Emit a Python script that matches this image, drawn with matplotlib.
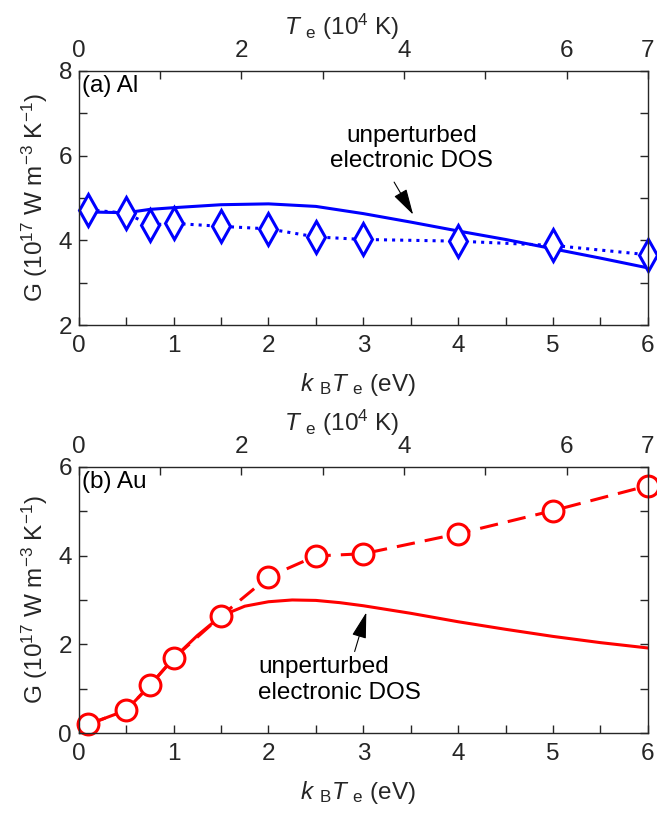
import matplotlib
matplotlib.use("Agg")
import matplotlib.pyplot as plt
from matplotlib.ticker import FixedLocator, MultipleLocator

plt.rcParams['font.family'] = ['Liberation Sans', 'DejaVu Sans']
plt.rcParams['mathtext.fontset'] = 'custom'
plt.rcParams['mathtext.rm'] = 'Liberation Sans'
plt.rcParams['mathtext.it'] = 'Liberation Sans:italic'

# (a) Al
al_x = [0.1, 0.5, 0.75, 1, 1.5, 2, 2.5, 3, 4, 5, 6]
al_g = [4.72, 4.64, 4.36, 4.40, 4.33, 4.27, 4.08, 4.02, 3.98, 3.88, 3.66]
al_dos_x = [0.1, 0.5, 0.75, 1, 1.5, 2, 2.5, 3, 3.5, 4, 4.5, 5, 5.5, 6]
al_dos_g = [4.67, 4.65, 4.73, 4.77, 4.84, 4.86, 4.80, 4.63, 4.43, 4.22, 4.02, 3.80, 3.58, 3.35]

# (b) Au
au_x = [0.1, 0.5, 0.75, 1, 1.5, 2, 2.5, 3, 4, 5, 6]
au_g = [0.20, 0.52, 1.08, 1.69, 2.64, 3.52, 3.99, 4.04, 4.49, 5.01, 5.57]
au_dos_x = [0.1, 0.5, 0.75, 1, 1.25, 1.5, 1.75, 2, 2.25, 2.5, 2.75, 3, 3.5, 4, 4.5, 5, 5.5, 6]
au_dos_g = [0.20, 0.52, 1.08, 1.69, 2.20, 2.64, 2.86, 2.96, 3.00, 2.99, 2.94, 2.87, 2.70, 2.51, 2.34, 2.18, 2.04, 1.92]

top_ticks = [0, 2, 4, 6, 7]
dark = '#262626'
fs = 17.5

fig = plt.figure(figsize=(6.57, 8.23), dpi=100)


def setup(ax, ylim, yticks, label):
    ax.set_xlim(0, 6)
    ax.set_ylim(*ylim)
    ax.xaxis.set_major_locator(MultipleLocator(1))
    ax.xaxis.set_minor_locator(MultipleLocator(0.5))
    ax.set_yticks(yticks)
    ax.yaxis.set_minor_locator(MultipleLocator(1))
    ax.tick_params(which='both', direction='in', top=False, right=True,
                   labelsize=fs, colors=dark, width=1, length=6)
    ax.tick_params(axis='x', pad=7)
    ax.tick_params(axis='y', pad=5)
    for s in ax.spines.values():
        s.set_color(dark)
        s.set_linewidth(1)
    ax.set_xlabel(r'$k\ _{\rm B}T\ _{\rm e}$ (eV)', fontsize=fs, color=dark, labelpad=10)
    ax.xaxis.label.set_x(0.49)
    ax.set_ylabel(r'G (10$^{17}$ W m$^{-3}$ K$^{-1}$)', fontsize=fs, color=dark, labelpad=6)
    ax.text(0.006, 0.985, label, transform=ax.transAxes, fontsize=fs,
            va='top', ha='left', color='k')

    top = ax.twiny()
    top.set_xlim(0, 7)
    top.xaxis.set_major_locator(FixedLocator(top_ticks))
    top.xaxis.set_minor_locator(FixedLocator([1, 3, 5]))
    top.tick_params(which='both', direction='in', length=6, labelsize=fs,
                    colors=dark, width=1, pad=6)
    for s in top.spines.values():
        s.set_visible(False)
    top.set_xlabel(r'$T\ _{\rm e}$ (10$^4$ K)', fontsize=fs, color=dark, labelpad=4)
    top.xaxis.label.set_x(0.462)
    return top


arrow = dict(arrowstyle='-|>,head_length=0.9,head_width=0.25', color='k',
             lw=0.8, mutation_scale=18)

ax1 = fig.add_axes([0.120, 0.605, 0.866, 0.309])
setup(ax1, (2, 8), [2, 4, 6, 8], '(a) Al')
ax1.plot(al_dos_x, al_dos_g, '-', color='blue', lw=2.2)
ax1.plot(al_x, al_g, ':', color='blue', lw=2.2, marker='d', ms=16,
         mfc='white', mec='blue', mew=2.2, clip_on=False)
ax1.text(3.51, 6.16, 'unperturbed\nelectronic DOS', fontsize=fs, ha='center',
         va='center', linespacing=1.2)
ax1.annotate('', xy=(3.54, 4.55), xytext=(3.31, 5.43), arrowprops=arrow)

ax2 = fig.add_axes([0.120, 0.109, 0.866, 0.324])
setup(ax2, (0, 6), [0, 2, 4, 6], '(b) Au')
ax2.plot(au_dos_x, au_dos_g, '-', color='red', lw=2.2)
ax2.plot(au_x, au_g, color='red', lw=2.2, ls=(0, (6, 3.3)), marker='o', ms=15,
         mfc='white', mec='red', mew=2.2, clip_on=False)
ax2.text(1.89, 1.2, 'unperturbed\nelectronic DOS', fontsize=fs, ha='left',
         va='center', linespacing=1.2)
ax2.annotate('', xy=(3.04, 2.78), xytext=(2.90, 1.78), arrowprops=arrow)

fig.savefig('out.png', dpi=100)
